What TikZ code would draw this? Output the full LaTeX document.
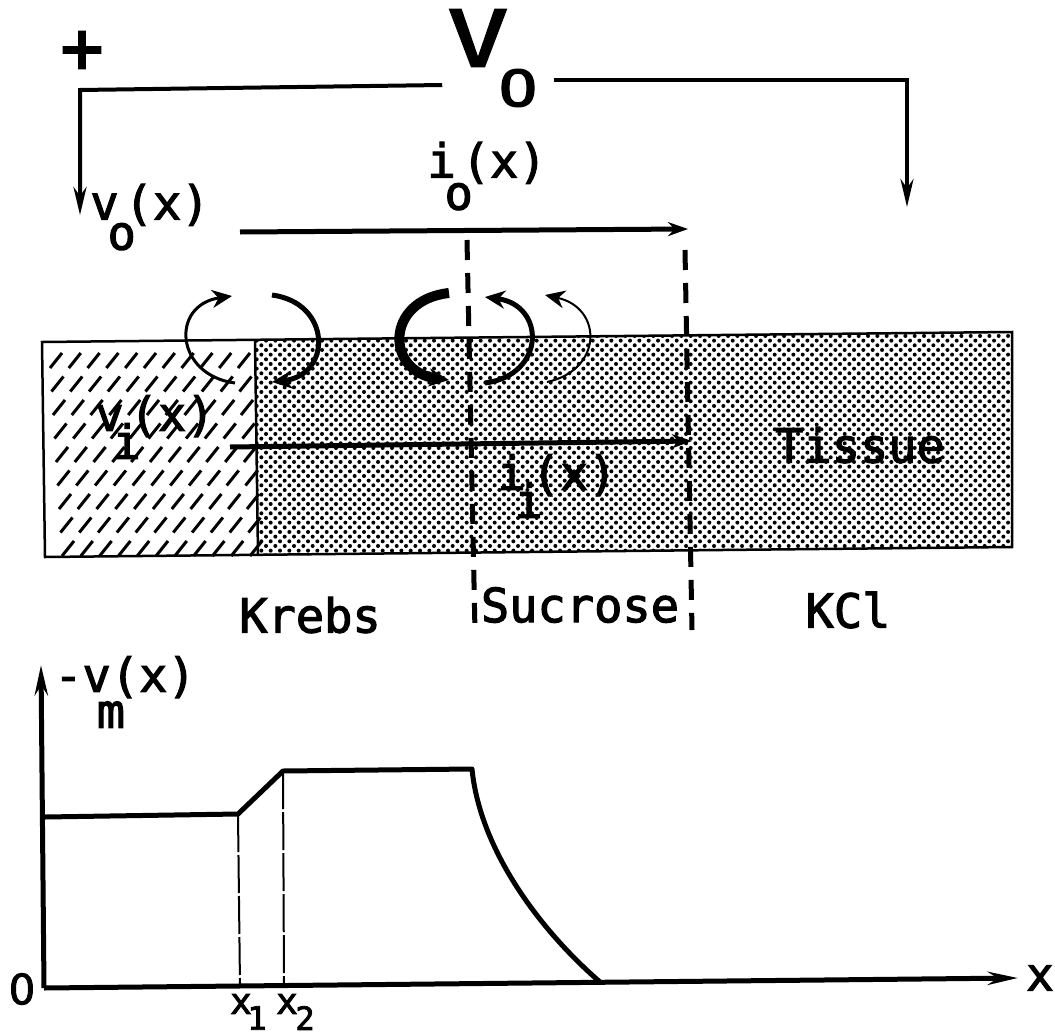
\documentclass[tikz,border=0pt]{standalone}
\usepackage{fontspec}
\setmonofont[FakeBold=2.4]{DejaVu Sans Mono}
\newfontfamily\plaindigits[FakeBold=2]{DejaVu Sans}
\usetikzlibrary{arrows.meta,patterns.meta}
\newcommand{\lowmark}[2][36pt]{\makebox[0pt]{\raisebox{-#1}{#2}}}
\begin{document}
\begin{tikzpicture}
[
    x=1pt, y=-1pt,
    label text/.style={inner sep=0pt, font=\ttfamily\fontsize{47}{47}\selectfont},
    wire/.style={line width=4pt, -{Stealth[length=28pt,width=13pt]}},
    current/.style={line width=5pt, -{Stealth[length=20pt,width=14pt]}},
    border/.style={dashed, line width=5pt, dash pattern=on 20pt off 13pt},
    edge/.style={line width=2.5pt},
    axis/.style={line width=5pt, -{Stealth[length=30pt,width=13pt]}},
    curve/.style={line width=5pt, line join=round},
    guide/.style={line width=2pt, dash pattern=on 38pt off 3pt},
    loop/.style={line width=#1, -{Stealth[length=20pt,width=18pt]}}
]
    \useasboundingbox (0,0) rectangle (1055,1036);

    \coordinate (tl) at (42,342);
    \coordinate (tm) at (255,340);
    \coordinate (tr) at (1012,332);
    \coordinate (br) at (1012,547);
    \coordinate (bm) at (258,555);
    \coordinate (bl) at (45,557);

    \fill [pattern={Dots[angle=45,distance=6.6pt,radius=2pt]}] (tm) -- (tr) -- (br) -- (bm) -- cycle;
    \foreach \row in {0,...,8} {
        \foreach \col in {0,...,10} {
            \draw [line width=3pt] ({50+18.8*\col+1.5*\row},{368+23.5*\row}) -- ++(12,-15);
        }
    }
    \draw [edge] (tl) -- (tr) -- (br) -- (bl) -- cycle;
    \draw [edge] (tm) -- (bm);

    \node [label text, font=\ttfamily\fontsize{72}{72}\selectfont] (plus) at (82,52) {+};
    \node [label text, font=\ttfamily\fontsize{78}{78}\selectfont] (vbig) at (478,38) {\scalebox{1.3}[1]{V}};
    \node [label text, font=\ttfamily\fontsize{50}{50}\selectfont] (vsub) at (518,88) {\scalebox{1.3}[1]{O}};
    \node [label text] (vo) at (150,217) {v\kern3pt\lowmark[30pt]{o}\kern3pt(x)};
    \node [label text] (io) at (487,176) {i\kern3pt\lowmark[32pt]{o}\kern3pt(x)};
    \node [label text] (vi) at (155,427) {v\kern3pt\lowmark[28pt]{i}\kern3pt(x)};
    \node [label text] (ii) at (557,486) {i\kern3pt\lowmark[28pt]{i}\kern3pt(x)};
    \node [label text] (tissue) at (860,445) {Tissue};
    \node [label text] (krebs) at (310,615) {Krebs};
    \node [label text] (sucrose) at (580,605) {Sucrose};
    \node [label text] (kcl) at (848,610) {KCl};
    \node [label text] (vm) at (125,692) {-v\lowmark{m}(x)};
    \node [label text, font=\plaindigits\fontsize{42}{42}\selectfont] (zero) at (22,989) {0};
    \node [label text, font=\ttfamily\fontsize{46}{46}\selectfont] (xaxis) at (1040,978) {x};
    \node [label text, font=\ttfamily\fontsize{36}{36}\selectfont] (xa) at (241,1004) {x};
    \node [label text, font=\ttfamily\fontsize{36}{36}\selectfont] (xb) at (287,1004) {x};
    \node [label text, font=\ttfamily\fontsize{32}{32}\selectfont] (na) at (257,1018) {1};
    \node [label text, font=\ttfamily\fontsize{32}{32}\selectfont] (nb) at (305,1018) {2};

    \coordinate (wl) at (80,90);
    \coordinate (wle) at (80,215);
    \coordinate (wr) at (907,80);
    \coordinate (wre) at (907,207);
    \draw [wire] (vsub.west) ++(-56,-3) -- (wl) -- (wle);
    \draw [wire] (vsub.east) ++(16,-8) -- (wr) -- (wre);

    \coordinate (ios) at (240,232);
    \coordinate (ioe) at (688,229);
    \coordinate (iis) at (230,447);
    \coordinate (iie) at (692,441);
    \draw [current] (ios) -- (ioe);
    \draw [current] (iis) -- (iie);

    \coordinate (da) at (467,240);
    \coordinate (db) at (475,632);
    \coordinate (dc) at (685,250);
    \coordinate (dd) at (692,630);
    \draw [border] (da) -- (db);
    \draw [border] (dc) -- (dd);

    \draw [loop=3pt] (235,383) .. controls (175,375) and (170,305) .. (232,296);
    \draw [loop=5pt] (272,295) .. controls (332,303) and (332,375) .. (272,382);
    \draw [loop=10pt] (449,293) .. controls (385,300) and (385,372) .. (449,380);
    \draw [loop=5pt] (485,383) .. controls (546,375) and (546,305) .. (485,297);
    \draw [loop=2pt] (547,382) .. controls (603,370) and (603,308) .. (545,295);

    \coordinate (origin) at (44,988);
    \coordinate (ytop) at (41,665);
    \coordinate (xend) at (1018,978);
    \draw [axis] (origin) -- (ytop);
    \draw [axis] (origin) -- (xend);

    \coordinate (xone) at (238,814);
    \coordinate (xtwo) at (283,771);
    \draw [curve] (45,817) -- (xone) -- (xtwo) -- (472,769) .. controls (480,850) and (540,930) .. (600,982);
    \draw [guide] (xone) -- (240,986);
    \draw [guide] (xtwo) -- (284,985);
\end{tikzpicture}
\end{document}
